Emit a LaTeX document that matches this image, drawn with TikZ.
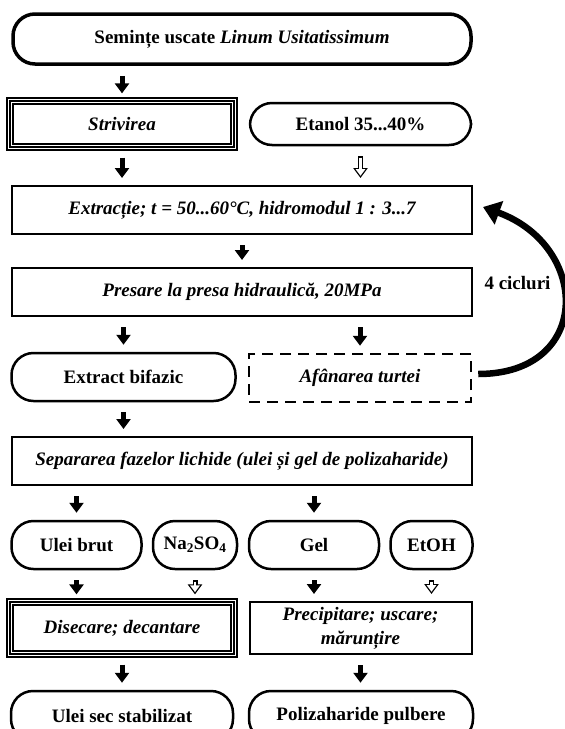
\documentclass[tikz,border=0pt]{standalone}
\usepackage{fontspec}
\setmainfont{Liberation Serif}
\usetikzlibrary{arrows.meta}

\begin{document}
\begin{tikzpicture}[x=1pt, y=1pt,
  every node/.style={font=\fontsize{19}{24}\selectfont\bfseries, align=center, inner sep=0pt},
  term/.style={draw, line width=2.5pt, rounded corners=22pt, minimum height=48pt},
  proc/.style={draw, line width=2pt, minimum height=48pt, font=\fontsize{19}{24}\selectfont\bfseries\itshape},
  triple/.style={proc, line width=1.3pt, preaction={draw, line width=7.5pt}, preaction={draw=white, line width=4.9pt}},
  dashbox/.style={proc, line width=2.5pt, dash pattern=on 11pt off 7pt},
  fullarr/.style={line width=5pt, -{Triangle[width=14pt,length=10pt]}, shorten <=10pt, shorten >=7pt},
  openarr/.style={fullarr, postaction={draw=white, line width=2.4pt, shorten <=11.4pt, shorten >=9.2pt, -{Triangle[width=9.5pt,length=6.8pt]}}},
  cyclearr/.style={line width=6.5pt, -{Triangle[width=24pt,length=17pt]}}
]
\useasboundingbox (0,0) rectangle (565,-729);

\node[term, line width=3.5pt, minimum width=458pt, minimum height=50pt] (seeds) at (242,-39) {Semințe uscate \textit{Linum Usitatissimum}};

\node[triple, minimum width=224pt, minimum height=46pt] (crush) at (122,-124) {Strivirea};
\node[term, minimum width=221pt, minimum height=42pt] (ethanol) at (360.5,-124) {Etanol 35...40\%};

\node[proc, minimum width=460pt] (extract) at (242,-210) {Extracție; t = 50...60°C, hidromodul 1 : 3...7};
\node[proc, minimum width=460pt] (press) at (242,-292) {Presare la presa hidraulică, 20MPa};

\node[term, minimum width=224pt] (biphase) at (123.5,-377) {Extract bifazic};
\node[dashbox, minimum width=222pt] (loosen) at (360,-378) {Afânarea turtei};

\node[proc, minimum width=460pt] (separ) at (242,-461) {Separarea fazelor lichide (ulei și gel de polizaharide)};

\node[term, minimum width=130pt] (crudeoil) at (76.5,-545) {Ulei brut};
\node[term, minimum width=84pt] (sulfate) at (195,-545) {Na\textsubscript{2}SO\textsubscript{4}};
\node[term, minimum width=130pt] (gel) at (314,-545) {Gel};
\node[term, minimum width=82pt] (etoh) at (431.5,-545) {EtOH};

\node[triple, minimum width=224pt, minimum height=52pt] (drying) at (122,-628) {Disecare; decantare};
\node[proc, minimum width=222pt, minimum height=52pt] (precip) at (360.5,-628) {Precipitare; uscare;\\mărunțire};

\node[term, minimum width=222pt, minimum height=50pt] (dryoil) at (122,-716) {Ulei sec stabilizat};
\node[term, minimum width=224pt, minimum height=50pt] (powder) at (361,-716) {Polizaharide pulbere};

\draw[fullarr] (seeds.south -| crush.north) -- (crush.north);
\draw[fullarr] (crush.south) -- (crush.south |- extract.north);
\draw[openarr] (ethanol.south) -- (ethanol.south |- extract.north);
\draw[fullarr] (extract.south) -- (press.north);
\draw[fullarr] (press.south -| biphase.north) -- (biphase.north);
\draw[fullarr] (press.south -| loosen.north) -- (loosen.north);
\draw[fullarr] (biphase.south) -- (biphase.south |- separ.north);
\draw[fullarr] (separ.south -| crudeoil.north) -- (crudeoil.north);
\draw[fullarr] (separ.south -| gel.north) -- (gel.north);
\draw[fullarr] (crudeoil.south) -- (crudeoil.south |- drying.north);
\draw[openarr] (sulfate.south) -- (sulfate.south |- drying.north);
\draw[fullarr] (gel.south) -- (gel.south |- precip.north);
\draw[openarr] (etoh.south) -- (etoh.south |- precip.north);
\draw[fullarr] (drying.south) -- (drying.south |- dryoil.north);
\draw[fullarr] (precip.south) -- (precip.south |- powder.north);

% cycles back to the extraction
\draw[cyclearr] ([xshift=6pt, yshift=4pt]loosen.east) to[out=0, in=-20, looseness=1.75] node[pos=0.6, anchor=east, xshift=-7pt] {4 cicluri} ([xshift=10pt, yshift=3pt]extract.east);

\end{tikzpicture}
\end{document}
